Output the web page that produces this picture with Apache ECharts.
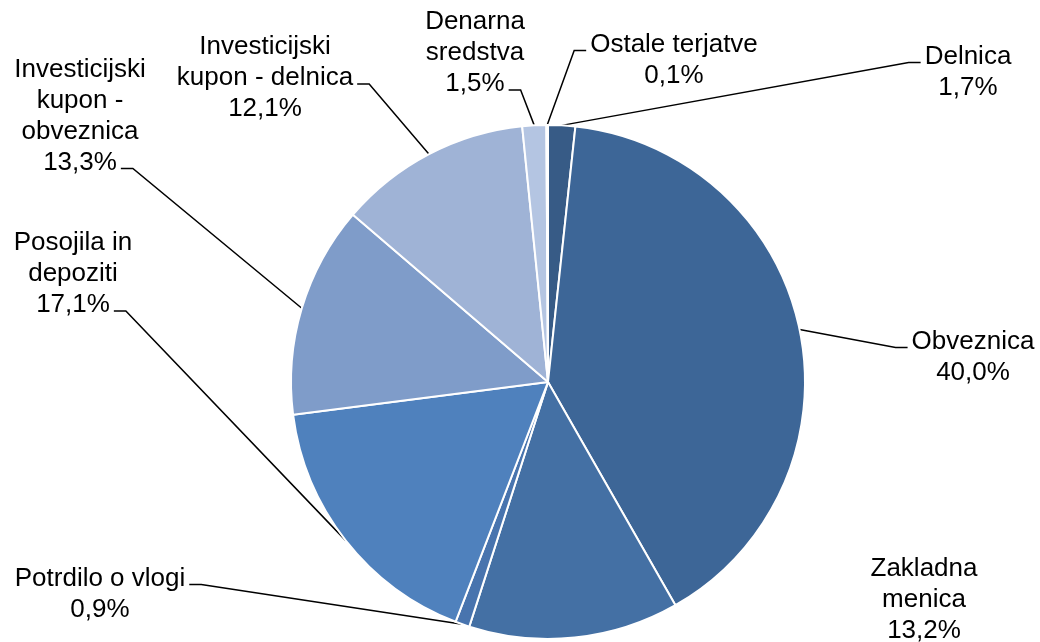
<!DOCTYPE html>
<html>
<head>
<meta charset="utf-8">
<script src="https://cdn.jsdelivr.net/npm/echarts@6/dist/echarts.min.js"></script>
<style>
html, body { margin: 0; background: #fff; }
#chart { width: 1040px; height: 642px; }
</style>
</head>
<body>
<div id="chart"></div>
<script>
var names = ['Delnica', 'Obveznica', 'Zakladna\nmenica', 'Potrdilo o vlogi', 'Posojila in\ndepoziti',
    'Investicijski\nkupon -\nobveznica', 'Investicijski\nkupon - delnica', 'Denarna\nsredstva', 'Ostale terjatve'];
var shares = [1.7, 40.0, 13.2, 0.9, 17.1, 13.3, 12.1, 1.5, 0.1];
var colors = ['#375B86', '#3D6697', '#4470A4', '#4874AE', '#4F81BD', '#7F9CC9', '#9FB3D6', '#B4C5E2', '#C9D5EA'];

// where each label block sits, and where its leader line hooks in
var labelPos = [[968, 72], [973, 357], [924, 600], [100, 594], [73, 274], [80, 116], [265, 78], [475, 53], [674, 60]];
var leaderSide = ['l', 'l', null, 'r', 'r', 'r', 'r', 'r', 'l'];
var leaderRow = [0, 0, 0, 0, 2, 3, 1, 2, 0];

var CX = 548, CY = 382, R = 257, LH = 31;
var FONT = '26px "Liberation Sans", Arial, sans-serif';

var ctx = document.createElement('canvas').getContext('2d');
ctx.font = FONT;

var total = shares.reduce(function (a, b) { return a + b; }, 0);

function fmt(v) {
    return v.toFixed(1).replace('.', ',') + '%';
}

var data = names.map(function (n, i) {
    var item = { name: n, value: shares[i], itemStyle: { color: colors[i] } };
    if (!leaderSide[i]) item.labelLine = { show: false };
    return item;
});

function layoutLabel(params) {
    var i = params.dataIndex;
    var p = labelPos[i];
    var out = { x: p[0], y: p[1], align: 'center', verticalAlign: 'middle' };
    if (!leaderSide[i]) return out;

    var cum = 0;
    for (var k = 0; k < i; k++) cum += shares[k];
    var ang = (cum + shares[i] / 2) / total * Math.PI * 2;
    var sx = CX + R * Math.sin(ang), sy = CY - R * Math.cos(ang);

    var lines = (names[i] + '\n' + fmt(shares[i])).split('\n');
    var w = ctx.measureText(lines[leaderRow[i]]).width;
    var top = p[1] - lines.length * LH / 2;
    var ey = top + LH * (leaderRow[i] + 0.5) + 6;
    var ex, bx;
    if (leaderSide[i] == 'l') {
        ex = p[0] - w / 2 - 4;
        bx = ex - 12;
    } else {
        ex = p[0] + w / 2 + 4;
        bx = ex + 12;
    }
    out.labelLinePoints = [[sx, sy], [bx, ey], [ex, ey]];
    return out;
}

var myChart = echarts.init(document.getElementById('chart'));
var option = {
    animation: false,
    backgroundColor: '#fff',
    series: [{
        type: 'pie',
        center: [CX, CY],
        radius: [0, R],
        startAngle: 90,
        clockwise: true,
        avoidLabelOverlap: false,
        itemStyle: { borderColor: '#fff', borderWidth: 2 },
        label: {
            show: true,
            position: 'outside',
            color: '#000',
            fontSize: 26,
            lineHeight: LH,
            fontFamily: '"Liberation Sans", Arial, sans-serif',
            formatter: function (p) {
                return p.name + '\n' + fmt(p.value);
            }
        },
        labelLine: {
            show: true,
            lineStyle: { color: '#000', width: 1.5 }
        },
        labelLayout: layoutLabel,
        emphasis: { disabled: true },
        data: data
    }]
};
myChart.setOption(option);
</script>
</body>
</html>
